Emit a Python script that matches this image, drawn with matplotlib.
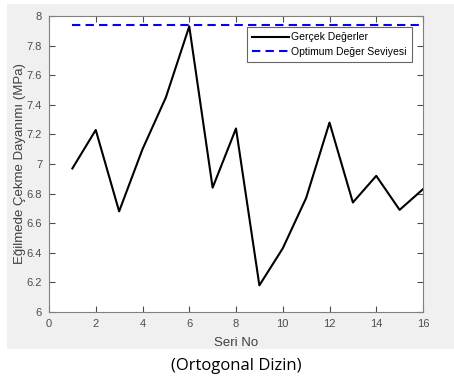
import matplotlib
matplotlib.use("Agg")
import matplotlib.pyplot as plt

seri_no = list(range(1, 17))
gercek = [6.97, 7.23, 6.68, 7.10, 7.45, 7.93, 6.84, 7.24, 6.18, 6.43, 6.77, 7.28, 6.74, 6.92, 6.69, 6.83]
optimum = 7.94
xticks = [0, 2, 4, 6, 8, 10, 12, 14, 16]
yticks = [6, 6.2, 6.4, 6.6, 6.8, 7, 7.2, 7.4, 7.6, 7.8, 8]
ytick_labels = ["6", "6.2", "6.4", "6.6", "6.8", "7", "7.2", "7.4", "7.6", "7.8", "8"]

W, H = 454, 377
fig = plt.figure(figsize=(W / 100, H / 100), dpi=100)
fig.patch.set_facecolor("white")
# gray MATLAB figure panel
bg = fig.add_axes([7 / W, 1 - 349 / H, (W - 7) / W, (349 - 4) / H], zorder=-5)
bg.set_facecolor("#f0f0f0")
bg.set_xticks([])
bg.set_yticks([])
for s in bg.spines.values():
    s.set_visible(False)

ax = fig.add_axes([49 / W, 1 - 312 / H, (423 - 49) / W, (312 - 16) / H], zorder=1)
ax.set_facecolor("white")
ax.plot(seri_no, gercek, color="black", lw=1.5, label="Gerçek Değerler")
ax.plot([seri_no[0], seri_no[-1]], [optimum, optimum], color="blue", lw=1.5,
        ls=(0, (4, 2.5)), label="Optimum Değer Seviyesi")
ax.set_xlim(0, 16)
ax.set_ylim(6, 8)
ax.set_xticks(xticks)
ax.set_yticks(yticks)
ax.set_yticklabels(ytick_labels)
tc = "#4d4d4d"
ax.tick_params(direction="in", top=True, right=True, length=4, width=0.8,
               colors=tc, labelsize=8, labelcolor=tc)
ax.tick_params(axis="y", pad=5)
ax.tick_params(axis="x", pad=5)
for s in ax.spines.values():
    s.set_color("#808080")
    s.set_linewidth(0.8)
fam = ["Liberation Sans", "DejaVu Sans"]
for lab in ax.get_xticklabels() + ax.get_yticklabels():
    lab.set_family(fam)
ax.set_xlabel("Seri No", fontsize=9.5, color="#404040", family=fam, labelpad=6)
ax.set_ylabel("Eğilmede Çekme Dayanımı (MPa)", fontsize=9.5, color="#404040", family=fam, labelpad=0.5)
leg = ax.legend(loc="upper right", bbox_to_anchor=(0.971, 0.963), borderaxespad=0,
                prop={"family": fam, "size": 7.5},
                frameon=True, fancybox=False, edgecolor="#404040", handlelength=3.5,
                borderpad=0.5, labelspacing=0.45, handletextpad=0.25)
leg.get_frame().set_linewidth(0.8)

fig.text(236 / W, 1 - 366 / H, "(Ortogonal Dizin)", ha="center", va="center",
         fontsize=12, family=["Open Sans", "DejaVu Sans"], color="black")

fig.savefig("out.png", dpi=100)
